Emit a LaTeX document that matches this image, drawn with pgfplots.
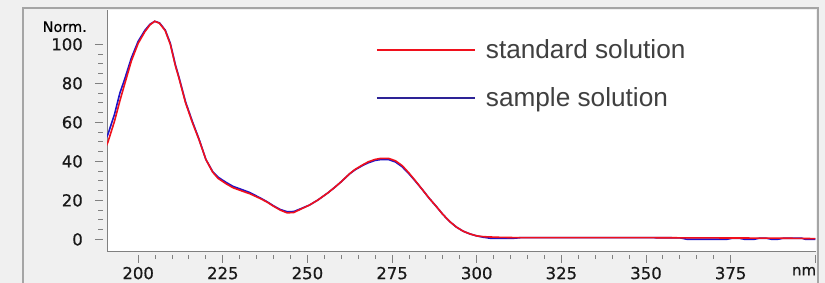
\documentclass[border=0pt]{standalone}
\usepackage{pgfplots}
\pgfplotsset{compat=1.18}
\usepackage{fontspec}
\setmainfont{DejaVu Sans}
\newfontfamily\tickfont[FakeBold=0.6]{DejaVu Sans}
\newfontfamily\legfont{Liberation Sans}
\definecolor{cred}{RGB}{240,16,28}
\definecolor{cblue}{RGB}{30,20,200}
\definecolor{lred}{RGB}{215,0,10}
\definecolor{lblue}{RGB}{45,35,150}
\definecolor{bggray}{RGB}{240,240,240}
\definecolor{framegray}{RGB}{165,165,165}
\definecolor{axgray}{RGB}{128,128,128}
\definecolor{txt}{RGB}{64,64,64}
\begin{document}
\begin{tikzpicture}[x=1pt,y=1pt]
\useasboundingbox (0,0) rectangle (825,283);
\fill[bggray] (0,0) rectangle (825,283);
\draw[framegray, line width=1.2pt] (23,-2) -- (23,275) -- (818,275) -- (818,-2);
\begin{axis}[
  at={(107pt,31.3pt)}, anchor=south west,
  scale only axis, width=709pt, height=241.7pt,
  xmin=190.8, xmax=400.2, ymin=-6.3, ymax=117.6,
  axis background/.style={fill=white},
  axis lines*=left,
  axis line style={axgray, line width=1pt},
  tick style={axgray, line width=1pt},
  y tick style={xshift=-4pt},
  x tick style={yshift=-3pt},
  tick align=outside,
  major tick length=8pt, minor tick length=4.5pt,
  xtick={200,225,...,375}, minor x tick num=4,
  extra x ticks={400}, extra x tick labels={nm},
  extra x tick style={xticklabel style={anchor=north east, xshift=1pt, font=\tickfont\fontsize{15}{16}\selectfont}},
  ytick={0,20,...,100}, minor y tick num=3,
  extra y ticks={109}, extra y tick labels={Norm.},
  extra y tick style={major tick length=0pt, yticklabel style={font=\tickfont\fontsize{14.5}{15}\selectfont, text=black, xshift=-4pt}},
  /pgf/number format/assume math mode=true,
  ticklabel style={font=\tickfont\fontsize{16.5}{18}\selectfont, text=black!90, inner sep=0pt},
  yticklabel style={xshift=-16pt},
  xticklabel style={yshift=-7pt},
  legend cell align=left,
  legend style={at={(axis description cs:0.379,0.885)}, anchor=north west, draw=none, fill=none,
    inner sep=0pt, font=\legfont\fontsize{26.2}{28}\selectfont, text=txt, row sep=23pt, column sep=8pt,
    cells={inner sep=0pt}},
  legend image code/.code={\draw[#1, line width=2pt] (0pt,0pt) -- (98pt,0pt);},
]
\addplot[cblue, line width=1.6pt, forget plot] table {
190 50
191 53.5
193 64
194.6 75
196 82
198 93
200 101.5
202 107.2
203.5 110.3
204.9 111.8
206.3 111
208 107.3
209.5 100.5
211 89.5
212 83.5
214 70.5
216 60.5
218 51.3
220 41
222 34.8
223.6 31.9
226 29.2
228 27.2
231 25.3
233 24
236 21.3
238 19.4
240 17.2
242 15.3
244 14.2
246 14.3
248 15.7
250.6 17.6
253 20.1
256 23.8
258 26.6
260 29.6
262.4 33.5
264 35.6
266.4 38
268 39.3
270 40.5
271.5 40.9
274 40.9
276 39.7
278 37.2
280 33.6
282 29.6
284 25.4
286 21
288 17
290 12.8
292 9.2
294 6.3
296 4.2
298 2.8
300 1.8
302 1.1
304 0.6
311 0.6
313 0.9
316 0.9
330 0.9
350 0.9
360 0.8
362 0.1
374 0.1
375.5 0.6
377.5 0.6
379 0.1
382 0.1
383.5 0.6
385.5 0.6
387 0.1
389 0.1
390.5 0.6
396 0.6
397 0.1
400 0.1
};
\addplot[cred, line width=1.6pt] table {
190 46
191 49.5
193 60.5
194.6 71
196 79.5
198 91.5
200 100.5
202 106.5
203.5 110
204.9 111.8
206.3 110.8
208 107
209.5 100
211 89
212 83
214 70
216 60
218 51
220 41
222 34.5
223.6 31.3
226 28.5
228 26.5
231 24.6
233 23.4
236 21
238 19.2
240 17
242 15
244 13.6
246 13.8
248 15.5
250.6 17.6
253 20.1
256 23.8
258 26.6
260 29.6
262.4 33.6
264 35.8
266.4 38.3
268 39.8
270 41
271.5 41.5
274 41.5
276 40.3
278 37.8
280 34
282 29.8
284 25.4
286 21
288 17
290 12.8
292 9.2
294 6.3
296 4.2
298 2.8
300 1.8
302 1.4
306 1.1
312 0.9
330 0.9
350 0.9
362 0.8
380 0.7
392 0.6
400 0.4
};
\addlegendentry{standard solution}
\addlegendimage{lblue, line width=2pt}
\addlegendentry{sample solution}
\end{axis}
\end{tikzpicture}
\end{document}
